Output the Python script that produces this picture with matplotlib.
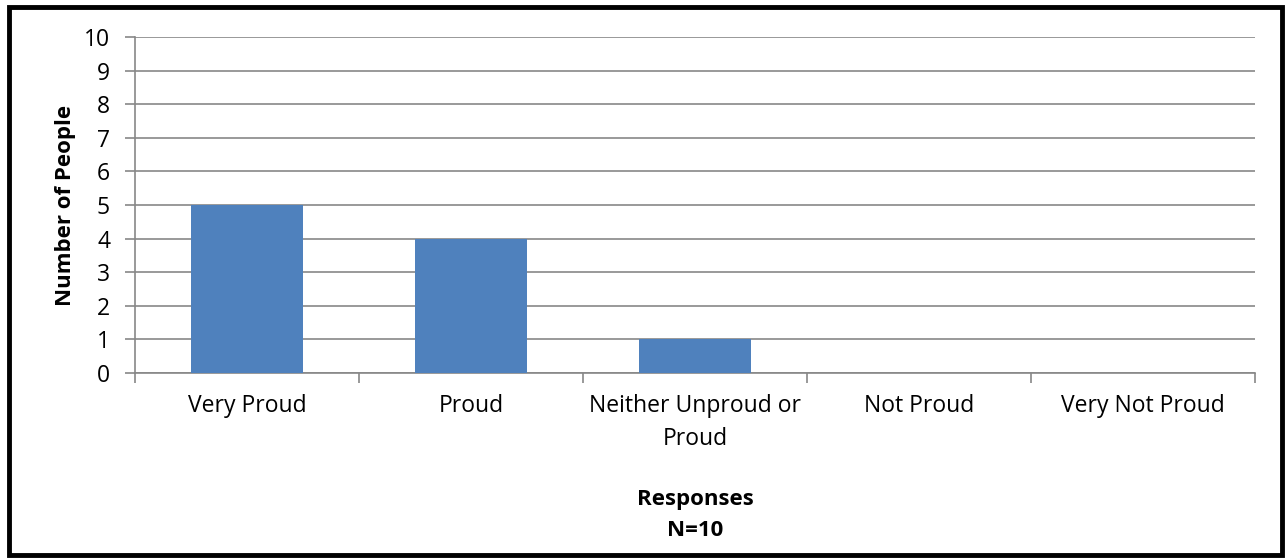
import matplotlib.pyplot as plt
from matplotlib.patches import Rectangle

# data
categories = ['Very Proud', 'Proud', 'Neither Unproud or\nProud', 'Not Proud', 'Very Not Proud']
counts = [5, 4, 1, 0, 0]

plt.rcParams['font.family'] = ['Open Sans', 'DejaVu Sans']

fig = plt.figure(figsize=(12.85, 5.59), dpi=100)
ax = fig.add_axes([135/1285, 1 - 373/559, 1120/1285, 336/559])

grid_col = '#878787'
x = list(range(len(categories)))
ax.bar(x, counts, width=0.5, color='#4F81BD', zorder=3)

ax.set_xlim(-0.5, len(categories) - 0.5)
ax.set_ylim(0, 10)
ax.set_yticks(range(0, 11))
ax.yaxis.grid(True, color=grid_col, linewidth=1.2, zorder=0)

ax.set_xticks(x)
ax.set_xticklabels(categories, fontsize=16.5, linespacing=1.5)
ax.set_xticks([i - 0.5 for i in range(len(categories) + 1)], minor=True)
ax.tick_params(axis='x', which='major', length=0, pad=15)
ax.tick_params(axis='x', which='minor', length=7, color=grid_col, width=1.2)
ax.tick_params(axis='y', length=7, color=grid_col, width=1.2, labelsize=16.5, pad=11)

for s in ['top', 'right']:
    ax.spines[s].set_visible(False)
for s in ['left', 'bottom']:
    ax.spines[s].set_color(grid_col)
    ax.spines[s].set_linewidth(1.2)

# axis titles
fig.text(65/1285, 1 - 205/559, 'Number of People', rotation=90, ha='center', va='center',
         fontsize=16, fontweight='bold')
fig.text(695/1285, 1 - 515/559, 'Responses\nN=10', ha='center', va='center',
         fontsize=16, fontweight='bold', linespacing=1.6)

# outer border
fig.patches.append(Rectangle((9/1285, 4/559), 1273/1285, 548/559, transform=fig.transFigure,
                             fill=False, edgecolor='black', linewidth=3.5))

fig.savefig('out.png', dpi=100)
